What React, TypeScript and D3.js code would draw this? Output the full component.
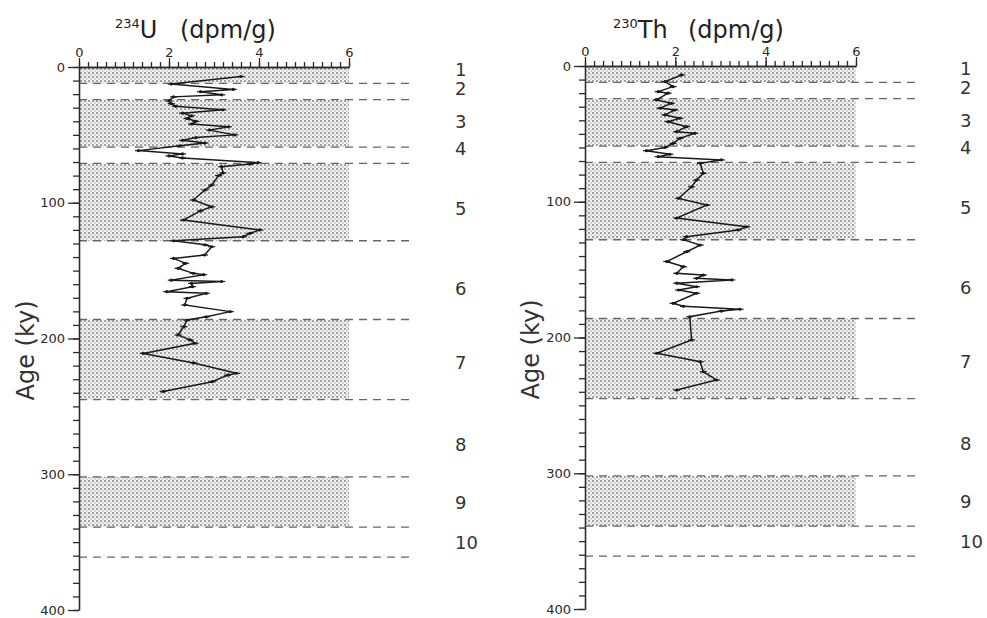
import React, { useRef, useEffect } from "react";
import * as d3 from "d3";

const xTicks = [0, 2, 4, 6];
const ageTicks = [0, 100, 200, 300, 400];

// glacial/interglacial stages
const bandTop = [0, 24, 71, 186, 302];
const bandBottom = [12, 59, 128, 245, 339];
const boundaries = [12, 24, 59, 71, 128, 186, 245, 302, 339, 361];
const stageNames = ["1", "2", "3", "4", "5", "6", "7", "8", "9", "10"];
const stageLabelAge = [2, 16, 40, 60, 104, 163, 218, 278, 321, 350];

// 234U (dpm/g)
const uAge = [7, 12.5, 16.5, 18.2, 20.5, 22, 25, 27, 29, 31.5, 34, 36, 38, 40, 42, 44, 46.5, 50, 52, 54, 56, 58, 61.6, 64, 65.5, 67, 70.5, 71.5, 73.4, 78, 80, 87, 90.6, 98, 103, 106, 112.7, 120, 122.5, 125, 128, 131, 132.4, 138.5, 141, 144.6, 148.3, 152, 153, 157, 158, 159.4, 161.8, 165.5, 166.7, 170.4, 175.3, 180.2, 184, 186.4, 191.3, 197.4, 201, 203.5, 211, 218, 225.6, 227, 231.8, 239];
const uDpm = [3.6, 2.05, 3.43, 2.7, 3.17, 2.1, 2.0, 2.05, 2.15, 3.2, 2.3, 2.5, 2.4, 2.6, 2.5, 3.32, 2.9, 3.46, 2.6, 2.3, 2.8, 2.24, 1.32, 2.3, 2.0, 2.3, 3.98, 3.8, 3.17, 3.2, 3.1, 2.95, 2.8, 2.54, 2.95, 2.7, 2.32, 4.02, 3.8, 3.65, 2.1, 2.8, 2.95, 2.79, 2.1, 2.37, 2.2, 2.54, 2.77, 2.05, 3.17, 2.5, 2.52, 1.95, 2.83, 2.4, 2.35, 3.36, 2.83, 2.4, 2.33, 2.2, 2.47, 2.58, 1.43, 2.55, 3.5, 3.3, 2.96, 1.87];

// 230Th (dpm/g)
const thAge = [6.6, 11.5, 15.2, 18.9, 20, 25, 27.5, 31, 32.4, 36, 38.5, 41, 44.7, 48.4, 49.6, 53.3, 57, 60, 62.4, 65, 66.8, 69.2, 71.7, 79, 84, 89, 97.5, 102.4, 112, 118.4, 120.8, 125.7, 128, 131.9, 136.8, 144, 147.8, 152.7, 154, 156.4, 157.6, 160, 162.6, 165, 167.4, 174.8, 177, 179.2, 180.5, 184.7, 201.8, 211.6, 217.8, 225.2, 231.3, 238.7];
const thDpm = [2.14, 1.77, 1.95, 1.62, 1.84, 1.58, 1.91, 1.66, 1.99, 1.77, 2.1, 1.84, 2.25, 2.03, 2.43, 2.1, 1.95, 1.77, 1.36, 1.88, 1.62, 3.02, 2.55, 2.62, 2.47, 2.36, 2.07, 2.7, 2.03, 3.58, 3.39, 2.25, 2.18, 2.55, 2.25, 1.81, 2.18, 2.03, 2.62, 2.47, 3.25, 2.03, 2.47, 2.07, 2.47, 1.95, 2.18, 3.43, 3.02, 2.32, 2.36, 1.59, 2.55, 2.62, 2.91, 2.03];

const FONT = "DejaVu Sans";
const INK = "#2a2a2a";

const panels = [
  { iso: "234", el: "U", age: uAge, dpm: uDpm, left: 79, right: 349, top: 67, bottom: 610, dashEnd: 415, stageX: 455, ageX: 34, titleX: 115, unitX: 180 },
  { iso: "230", el: "Th", age: thAge, dpm: thDpm, left: 585, right: 856, top: 66, bottom: 609, dashEnd: 920, stageX: 960, ageX: 539, titleX: 613, unitX: 688 },
];

const drawPanel = (svg, p) => {
  const x = d3.scaleLinear().domain([0, 6]).range([p.left, p.right]);
  const y = d3.scaleLinear().domain([0, 400]).range([p.top, p.bottom]);
  const g = svg.append("g");

  g.selectAll("rect.band")
    .data(bandTop)
    .enter()
    .append("rect")
    .attr("x", x(0))
    .attr("y", d => y(d))
    .attr("width", x(6) - x(0))
    .attr("height", (d, i) => y(bandBottom[i]) - y(d))
    .attr("fill", "url(#dots)");

  g.selectAll("line.bound")
    .data(boundaries)
    .enter()
    .append("line")
    .attr("x1", x(0))
    .attr("x2", p.dashEnd)
    .attr("y1", d => y(d))
    .attr("y2", d => y(d))
    .attr("stroke", "#666")
    .attr("stroke-width", 1.3)
    .attr("stroke-dasharray", "8 6");

  // top axis: minor every 0.2, labelled majors
  const minorX = g.append("g").attr("transform", `translate(0,${p.top})`)
    .call(d3.axisTop(x).tickValues(d3.range(0, 6.01, 0.2)).tickSize(5).tickSizeOuter(0).tickFormat(() => ""));
  const majorX = g.append("g").attr("transform", `translate(0,${p.top})`)
    .call(d3.axisTop(x).tickValues(xTicks).tickSize(9).tickSizeOuter(0).tickPadding(1).tickFormat(d3.format("d")));

  const minorY = g.append("g").attr("transform", `translate(${p.left},0)`)
    .call(d3.axisLeft(y).tickValues(d3.range(0, 401, 10)).tickSize(6).tickSizeOuter(0).tickFormat(() => ""));
  const majorY = g.append("g").attr("transform", `translate(${p.left},0)`)
    .call(d3.axisLeft(y).tickValues(ageTicks).tickSize(11).tickSizeOuter(0).tickPadding(3).tickFormat(d3.format("d")));

  [minorX, majorX, minorY, majorY].forEach(a => {
    a.selectAll("path, line").attr("stroke", INK).attr("stroke-width", 1.3);
    a.selectAll("text").attr("font-family", FONT).attr("font-size", 13).attr("fill", INK);
  });

  const pts = p.age.map((a, i) => ({ age: a, v: p.dpm[i] }));
  const line = d3.line().x(d => x(d.v)).y(d => y(d.age));
  g.append("path")
    .datum(pts)
    .attr("d", line)
    .attr("fill", "none")
    .attr("stroke", "#1a1a1a")
    .attr("stroke-width", 1.5);

  g.selectAll("line.err")
    .data(pts)
    .enter()
    .append("line")
    .attr("x1", d => x(d.v) - 3.5)
    .attr("x2", d => x(d.v) + 3.5)
    .attr("y1", d => y(d.age))
    .attr("y2", d => y(d.age))
    .attr("stroke", "#1a1a1a")
    .attr("stroke-width", 1.2);
  g.selectAll("circle.pt")
    .data(pts)
    .enter()
    .append("circle")
    .attr("cx", d => x(d.v))
    .attr("cy", d => y(d.age))
    .attr("r", 1.6)
    .attr("fill", "#1a1a1a");

  g.selectAll("text.stage")
    .data(stageNames)
    .enter()
    .append("text")
    .attr("x", p.stageX)
    .attr("y", (d, i) => y(stageLabelAge[i]))
    .attr("dy", "0.36em")
    .attr("font-family", FONT)
    .attr("font-size", 18)
    .attr("fill", "#333")
    .text(d => d);

  g.append("text")
    .attr("transform", `translate(${p.ageX},${(p.top + p.bottom) / 2 + 12}) rotate(-90)`)
    .attr("text-anchor", "middle")
    .attr("font-family", FONT)
    .attr("font-size", 24)
    .attr("fill", "#333")
    .text("Age (ky)");

  const title = g.append("text")
    .attr("x", p.titleX)
    .attr("y", 38)
    .attr("font-family", FONT)
    .attr("fill", "#222");
  title.append("tspan").attr("font-size", 13).attr("dy", -10).text(p.iso);
  title.append("tspan").attr("font-size", 24).attr("dy", 10).text(p.el);
  g.append("text")
    .attr("x", p.unitX)
    .attr("y", 38)
    .attr("font-family", FONT)
    .attr("font-size", 24)
    .attr("fill", "#222")
    .text("(dpm/g)");
};

const Chart = element => {
  d3.select(element).selectAll("*").remove();
  const svg = d3.select(element)
    .append("svg")
    .attr("width", 987)
    .attr("height", 618)
    .style("display", "block")
    .style("background", "#fff");

  const pat = svg.append("defs").append("pattern")
    .attr("id", "dots")
    .attr("width", 4)
    .attr("height", 4)
    .attr("patternUnits", "userSpaceOnUse");
  pat.append("rect").attr("width", 4).attr("height", 4).attr("fill", "#f2f2f2");
  pat.append("circle").attr("cx", 1).attr("cy", 1).attr("r", 0.95).attr("fill", "#808080");
  pat.append("circle").attr("cx", 3).attr("cy", 3).attr("r", 0.65).attr("fill", "#a0a0a0");

  panels.forEach(p => drawPanel(svg, p));
};

const App = () => {
  const ref = useRef(null);
  useEffect(() => {
    Chart(ref.current);
  }, []);
  return <div ref={ref} style={{ position: "absolute", left: 0, top: 0 }}></div>;
};

export default App;
